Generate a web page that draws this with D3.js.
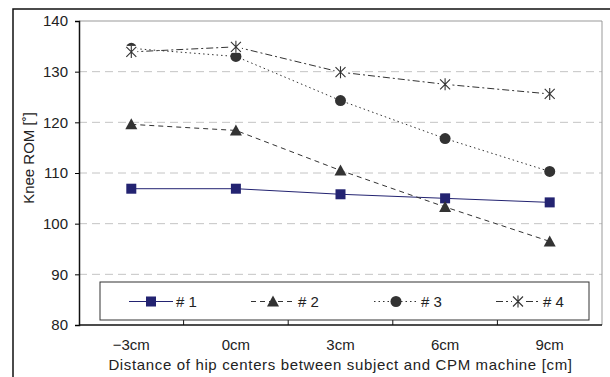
<!DOCTYPE html>
<html>
<head>
<meta charset="utf-8">
<script src="https://cdn.jsdelivr.net/npm/d3@7"></script>
<style>
  body { margin: 0; background: #fff; }
  svg { font-family: 'Liberation Sans', Arial, sans-serif; }
</style>
</head>
<body>
<svg id="chart" width="610" height="377"></svg>
<script>
const categories = ['\u22123cm', '0cm', '3cm', '6cm', '9cm'];
const seriesNames = ['# 1', '# 2', '# 3', '# 4'];
const s1 = [106.9, 106.9, 105.8, 105.0, 104.2];
const s2 = [119.6, 118.4, 110.5, 103.3, 96.5];
const s3 = [134.6, 133.0, 124.3, 116.8, 110.3];
const s4 = [133.9, 134.9, 129.9, 127.5, 125.6];
const yTicks = [80, 90, 100, 110, 120, 130, 140];

const margin = { top: 21, right: 8, bottom: 52, left: 79 };
const width = 610 - margin.left - margin.right;
const height = 377 - margin.top - margin.bottom;

const svg = d3.select('#chart');

// outer frame
svg.append('rect')
  .attr('x', 13).attr('y', 9)
  .attr('width', 620).attr('height', 400)
  .attr('fill', 'none').attr('stroke', '#111').attr('stroke-width', 1.5);

const g = svg.append('g')
  .attr('transform', 'translate(' + margin.left + ',' + margin.top + ')');

const x = d3.scaleBand().domain(categories).range([0, width]);
const y = d3.scaleLinear().domain([80, 140]).range([height, 0]);

// grid
g.selectAll('.grid')
  .data(yTicks.filter(d => d > 80 && d < 140))
  .enter().append('line')
  .attr('x1', 0).attr('x2', width)
  .attr('y1', d => y(d)).attr('y2', d => y(d))
  .attr('stroke', '#c4c4c4').attr('stroke-dasharray', '8,5');

// top / right border of plot area
g.append('path')
  .attr('d', 'M0,0H' + width + 'V' + height)
  .attr('fill', 'none').attr('stroke', '#999');

const yAxis = g.append('g')
  .call(d3.axisLeft(y).tickValues(yTicks).tickSize(4).tickPadding(7));
yAxis.selectAll('text').style('font-size', '15px').attr('fill', '#222');
yAxis.select('.domain').attr('stroke', '#111').attr('stroke-width', 1.5);

const boundaries = categories.slice(1).map(c => x(c));
const xAxis = g.append('g')
  .attr('transform', 'translate(0,' + height + ')');
xAxis.append('line')
  .attr('x1', 0).attr('x2', width)
  .attr('stroke', '#111').attr('stroke-width', 1.5);
xAxis.selectAll('.tk')
  .data(boundaries)
  .enter().append('line')
  .attr('x1', d => d).attr('x2', d => d)
  .attr('y1', 0).attr('y2', -5)
  .attr('stroke', '#111');
xAxis.selectAll('.lbl')
  .data(categories)
  .enter().append('text')
  .attr('x', d => x(d) + x.bandwidth() / 2)
  .attr('y', 25)
  .attr('text-anchor', 'middle')
  .style('font-size', '15px').attr('fill', '#222')
  .text(d => d);

svg.append('text')
  .attr('x', (margin.left + width / 2)).attr('y', 370)
  .attr('text-anchor', 'middle')
  .style('font-size', '15px').style('letter-spacing', '0.65px').attr('fill', '#222')
  .text('Distance of hip centers between subject and CPM machine [cm]');

svg.append('text')
  .attr('transform', 'translate(34,158) rotate(-90)')
  .attr('text-anchor', 'middle')
  .style('font-size', '15px').attr('fill', '#222')
  .text('Knee ROM [\u02da]');

const series = [
  { name: seriesNames[0], values: s1, color: '#232371', dash: null, marker: 'square' },
  { name: seriesNames[1], values: s2, color: '#333', dash: '5,4', marker: 'triangle' },
  { name: seriesNames[2], values: s3, color: '#333', dash: '1.5,3', marker: 'circle' },
  { name: seriesNames[3], values: s4, color: '#333', dash: '7,3,2,3', marker: 'asterisk' }
];

function drawMarker(sel, type, color) {
  if (type === 'square') {
    sel.append('rect').attr('x', -5).attr('y', -5).attr('width', 10).attr('height', 10).attr('fill', color);
  } else if (type === 'triangle') {
    sel.append('path').attr('d', 'M0,-6L6,5H-6Z').attr('fill', color);
  } else if (type === 'circle') {
    sel.append('circle').attr('r', 5.5).attr('fill', color);
  } else {
    sel.append('rect').attr('x', -6).attr('y', -6).attr('width', 12).attr('height', 12).attr('fill', '#fff');
    sel.append('path').attr('d', 'M0,-6V6M-5,-5L5,5M-5,5L5,-5')
      .attr('stroke', color).attr('stroke-width', 1.1).attr('fill', 'none');
  }
}

const line = d3.line()
  .x((d, i) => x(categories[i]) + x.bandwidth() / 2)
  .y(d => y(d));

series.forEach(s => {
  g.append('path')
    .attr('d', line(s.values))
    .attr('fill', 'none')
    .attr('stroke', s.color)
    .attr('stroke-width', 1)
    .attr('stroke-dasharray', s.dash);
  s.values.forEach((v, i) => {
    const m = g.append('g')
      .attr('transform', 'translate(' + (x(categories[i]) + x.bandwidth() / 2) + ',' + y(v) + ')');
    drawMarker(m, s.marker, s.color);
  });
});

// legend
const legend = svg.append('g');
legend.append('rect')
  .attr('x', 100).attr('y', 282).attr('width', 489).attr('height', 38)
  .attr('fill', '#fff').attr('stroke', '#333').attr('stroke-width', 1);
const legendX = [151, 273, 396, 518];
series.forEach((s, i) => {
  const cx = legendX[i];
  const ly = 301.5;
  legend.append('line')
    .attr('x1', cx - 22).attr('x2', cx + 22)
    .attr('y1', ly).attr('y2', ly)
    .attr('stroke', s.color).attr('stroke-dasharray', s.dash);
  const m = legend.append('g').attr('transform', 'translate(' + cx + ',' + ly + ')');
  drawMarker(m, s.marker, s.color);
  legend.append('text')
    .attr('x', cx + 25).attr('y', ly + 5)
    .style('font-size', '15px').attr('fill', '#222')
    .text(s.name);
});
</script>
</body>
</html>
